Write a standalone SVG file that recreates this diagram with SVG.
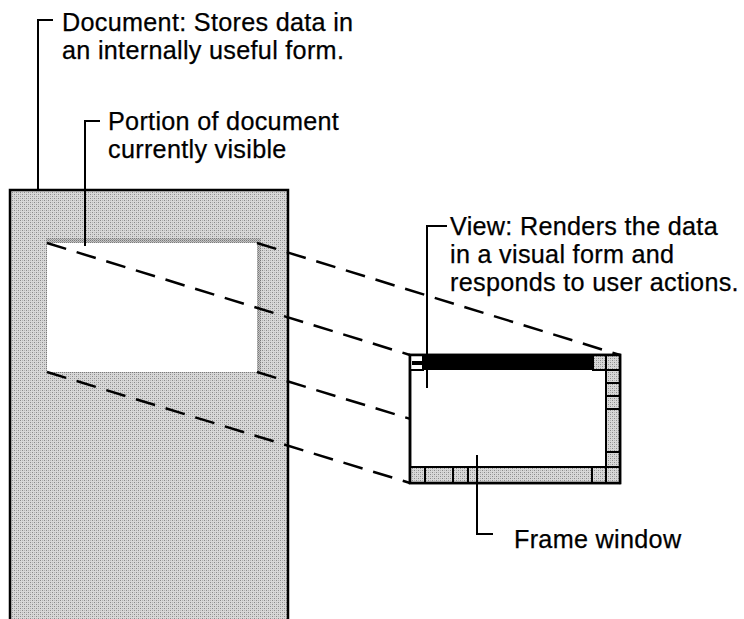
<svg xmlns="http://www.w3.org/2000/svg" width="744" height="619" viewBox="0 0 744 619">
  <defs>
    <!-- printed halftone grey -->
    <pattern id="halftone" width="4" height="4" patternUnits="userSpaceOnUse">
      <rect width="4" height="4" fill="#d8d8d8"/>
      <rect x="0" y="0" width="1" height="1" fill="#8a8a8a"/>
      <rect x="2" y="2" width="1" height="1" fill="#8a8a8a"/>
      <rect x="2" y="0" width="1" height="1" fill="#b4b4b4"/>
      <rect x="0" y="2" width="1" height="1" fill="#b4b4b4"/>
    </pattern>
    <pattern id="halftoneDark" width="2" height="2" patternUnits="userSpaceOnUse">
      <rect width="2" height="2" fill="#c4c4c4"/>
      <rect x="0" y="0" width="1" height="1" fill="#7a7a7a"/>
      <rect x="1" y="1" width="1" height="1" fill="#9a9a9a"/>
    </pattern>
  </defs>
  <style>
    .label { font-family: "Liberation Sans", Arial, Helvetica, sans-serif; font-size: 25.2px; letter-spacing: 0.3px; fill: #000; stroke: #000; stroke-width: 0.25; }
    .leader { fill: none; stroke: #000; stroke-width: 2; }
    .dash { fill: none; stroke: #000; stroke-width: 2.5; stroke-dasharray: 20 11; }
    .cell { fill: url(#halftone); stroke: #000; stroke-width: 2; }
  </style>

  <rect width="744" height="619" fill="#fff"/>

  <!-- document: tall shaded sheet -->
  <g id="document">
    <rect x="10" y="190" width="278" height="440" fill="url(#halftone)" stroke="#000" stroke-width="2.5"/>
    <!-- visible portion with its soft shadow -->
    <rect x="46" y="238" width="215" height="135" fill="url(#halftoneDark)"/>
    <rect x="47" y="243" width="210" height="129" fill="#fff"/>
  </g>

  <!-- projection lines from the visible portion to the frame window -->
  <g id="connectors">
    <line class="dash" x1="47" y1="243" x2="410" y2="355"/>
    <line class="dash" x1="257" y1="243" x2="620" y2="355"/>
    <line class="dash" x1="257" y1="372" x2="620" y2="483"/>
    <line class="dash" x1="47" y1="372" x2="410" y2="483"/>
  </g>

  <!-- frame window with title bar and scroll bars -->
  <g id="frame-window">
    <rect x="410" y="355" width="210" height="128" fill="#fff" stroke="#000" stroke-width="2.5"/>
    <!-- title bar -->
    <rect x="410" y="355" width="13" height="15" fill="#fff" stroke="#000" stroke-width="2"/>
    <rect x="412" y="361" width="10" height="4" fill="#000"/>
    <rect x="423" y="355" width="170" height="15" fill="#000"/>
    <rect class="cell" x="593" y="355" width="13" height="15"/>
    <rect class="cell" x="606" y="355" width="14" height="15"/>
    <!-- vertical scroll bar -->
    <rect class="cell" x="606" y="370" width="14" height="13"/>
    <rect class="cell" x="606" y="383" width="14" height="13"/>
    <rect class="cell" x="606" y="396" width="14" height="13"/>
    <rect class="cell" x="606" y="409" width="14" height="43"/>
    <rect class="cell" x="606" y="452" width="14" height="15"/>
    <!-- horizontal scroll bar -->
    <rect class="cell" x="410" y="467" width="15" height="16"/>
    <rect class="cell" x="425" y="467" width="28" height="16"/>
    <rect class="cell" x="453" y="467" width="15" height="16"/>
    <rect class="cell" x="468" y="467" width="124" height="16"/>
    <rect class="cell" x="592" y="467" width="14" height="16"/>
    <rect class="cell" x="606" y="467" width="14" height="16"/>
    <rect x="410" y="355" width="210" height="128" fill="none" stroke="#000" stroke-width="2.5"/>
  </g>

  <!-- callouts -->
  <g id="label-document">
    <path class="leader" d="M38,190 V20 H53"/>
    <text class="label" x="62" y="31">Document: Stores data in</text>
    <text class="label" x="62" y="59">an internally useful form.</text>
  </g>
  <g id="label-portion">
    <path class="leader" d="M85,246 V121 H100"/>
    <text class="label" x="108" y="130">Portion of document</text>
    <text class="label" x="108" y="158">currently visible</text>
  </g>
  <g id="label-view">
    <path class="leader" d="M427,388 V226 H447"/>
    <text class="label" x="450" y="235">View: Renders the data</text>
    <text class="label" x="450" y="263">in a visual form and</text>
    <text class="label" x="450" y="291">responds to user actions.</text>
  </g>
  <g id="label-frame">
    <path class="leader" d="M477,455 V534 H493"/>
    <text class="label" x="514" y="548">Frame window</text>
  </g>
</svg>
